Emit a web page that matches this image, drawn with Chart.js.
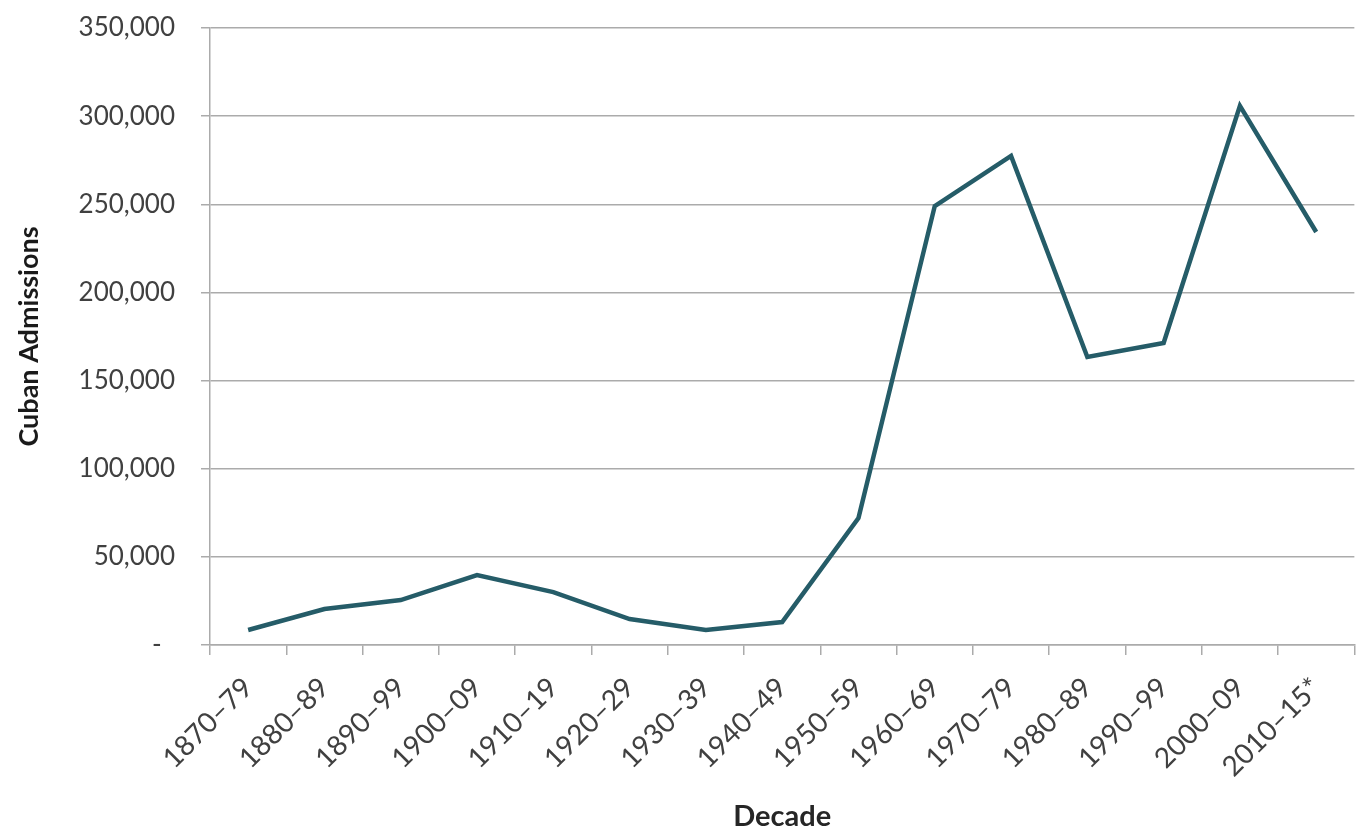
<!DOCTYPE html>
<html>
<head>
<meta charset="utf-8">
<script src="https://cdn.jsdelivr.net/npm/chart.js@4/dist/chart.umd.min.js"></script>
<style>
  html, body { margin: 0; padding: 0; background: #ffffff; }
  #wrap { width: 1356px; height: 831px; position: relative; }
</style>
</head>
<body>
<div id="wrap"><canvas id="chart"></canvas></div>
<script>
// Cuban admissions to the United States by decade
const decades = ['1870–79', '1880–89', '1890–99', '1900–09', '1910–19', '1920–29', '1930–39',
  '1940–49', '1950–59', '1960–69', '1970–79', '1980–89', '1990–99', '2000–09', '2010–15*'];
const admissions = [8500, 20400, 25500, 39700, 30000, 14700, 8500,
  13000, 72000, 249000, 277400, 163400, 171300, 305800, 234300];
const yTicks = [0, 50000, 100000, 150000, 200000, 250000, 300000, 350000];

const textColor = '#404040';
const gridColor = '#ababab';

new Chart(document.getElementById('chart'), {
  type: 'line',
  data: {
    labels: decades,
    datasets: [{
      label: 'Cuban Admissions',
      data: admissions,
      borderColor: '#255c68',
      borderWidth: 4.5,
      pointRadius: 0,
      tension: 0,
      fill: false
    }]
  },
  options: {
    responsive: true,
    maintainAspectRatio: false,
    animation: false,
    layout: { padding: { top: 28, right: 1, bottom: 0, left: 0 } },
    plugins: { legend: { display: false }, tooltip: { enabled: false } },
    scales: {
      x: {
        type: 'category',
        offset: true,
        grid: {
          offset: true,
          display: true,
          drawOnChartArea: false,
          drawTicks: true,
          tickLength: 10,
          color: gridColor,
          lineWidth: 1.5
        },
        border: { display: true, color: gridColor, width: 1.5 },
        ticks: {
          color: textColor,
          font: { family: 'Lato', size: 28 },
          minRotation: 45,
          maxRotation: 45,
          autoSkip: false,
          padding: 16
        },
        title: {
          display: true,
          text: 'Decade',
          color: '#262626',
          font: { family: 'Lato', size: 29, weight: 'bold', lineHeight: 1 },
          padding: { top: 0, bottom: 0 }
        },
        afterFit: (scale) => { scale.height = 186; }
      },
      y: {
        min: 0,
        max: 350000,
        afterBuildTicks: (scale) => { scale.ticks = yTicks.map(v => ({ value: v })); },
        grid: {
          color: gridColor,
          lineWidth: 1.5,
          drawTicks: true,
          tickLength: 9
        },
        border: { display: true, color: gridColor, width: 1.5 },
        ticks: {
          color: textColor,
          font: { family: 'Lato', size: 26 },
          padding: 26,
          callback: (v) => v === 0 ? '-  ' : v.toLocaleString('en-US')
        },
        title: {
          display: true,
          text: 'Cuban Admissions',
          color: '#1a1a1a',
          font: { family: 'Lato', size: 27, weight: 'bold', lineHeight: 1 },
          padding: { top: 16, bottom: 0 }
        },
        afterFit: (scale) => {
          scale.width = 210;
          scale.paddingTop = 0;
          scale.paddingBottom = 0;
        }
      }
    }
  }
});
</script>
</body>
</html>
